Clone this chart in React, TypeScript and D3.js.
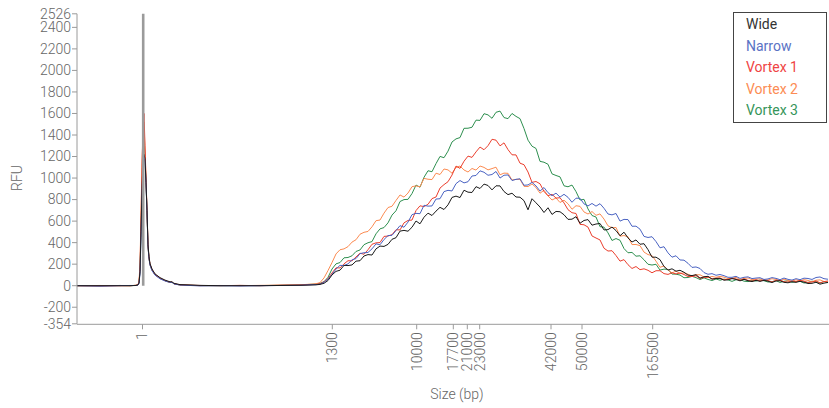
import React from 'react';
import * as d3 from 'd3';

// ---------- data ----------
const seriesNames = ['Wide', 'Narrow', 'Vortex 1', 'Vortex 2', 'Vortex 3'];
const seriesColors = ['#1a1a1a', '#4a63c2', '#ea3f2e', '#fb8b52', '#2e8f4f'];
const legendColors = ['#333333', '#5a72c4', '#ef4444', '#fc8c54', '#36955a'];

// size-ladder ticks (label, migration time in s)
const sizeLabels = ['1', '1300', '10000', '17700', '21000', '23000', '42000', '50000', '165500'];
const sizeTimes = [6.55, 25.53, 33.97, 37.63, 39.03, 40.27, 47.4, 50.5, 57.57];

const yTickValues = [-354, -200, 0, 200, 400, 600, 800, 1000, 1200, 1400, 1600, 1800, 2000, 2200, 2400, 2526];
const yMin = -354;
const yMax = 2526;
const tMax = 75.2;

// lower marker
const markerTime = 6.62;
const markerHeight = 2526;

// early region (baseline + lower marker peak), explicit times
const earlyTime = [0, 2.3, 4.3, 5.3, 5.9, 6.1, 6.2, 6.3, 6.4, 6.5, 6.6, 6.7, 6.8, 6.9, 7.0, 7.1, 7.2, 7.3, 7.5, 7.8, 8.3, 8.8, 9.3, 9.5, 9.7, 10.3, 12.3, 14.3, 16.3, 18.3, 20.3, 22.3, 23.3, 23.9];
const wideEarly = [0, 0, 0, 0, 2, 8, 25, 130, 500, 900, 1150, 1220, 1180, 960, 700, 380, 270, 205, 155, 110, 75, 52, 36, 36, 22, 10, 3, 0, 0, 0, 2, 4, 6, 8];
const narrowEarly = [0, -4, 0, 2, 2, 6, 20, 110, 450, 850, 1100, 1200, 1150, 950, 680, 360, 250, 190, 140, 98, 64, 44, 30, 31, 16, 6, -2, 0, -3, 0, 2, 4, 9, 10];
const vortex1Early = [0, -3, 2, 0, 3, 10, 30, 150, 600, 1100, 1450, 1600, 1300, 1000, 700, 380, 260, 200, 150, 105, 70, 48, 32, 34, 18, 8, 2, 0, 3, 0, 4, 6, 10, 12];
const vortex2Early = [0, 2, -2, 0, 4, 12, 40, 200, 650, 1150, 1450, 1520, 1250, 980, 690, 370, 255, 195, 145, 100, 68, 46, 30, 33, 17, 7, 0, 2, 0, 3, 5, 8, 14, 18];
const vortex3Early = [0, 0, 2, 0, 3, 8, 28, 140, 520, 950, 1250, 1350, 1200, 960, 680, 365, 255, 195, 145, 102, 68, 46, 30, 32, 17, 7, 1, 0, 2, 1, 4, 8, 12, 15];

// main smear region, sampled every 0.4 s from 24.3 s
const mainStart = 24.3;
const mainStep = 0.4;
const wideMain = [
  12, 22, 48, 100, 133, 144, 189, 187, 193, 228,
  232, 276, 289, 285, 342, 368, 365, 384, 431, 446,
  507, 514, 506, 543, 601, 575, 636, 674, 652, 693,
  728, 708, 751, 820, 832, 819, 887, 869, 866, 920,
  903, 944, 931, 890, 928, 927, 875, 846, 859, 824,
  822, 790, 705, 808, 770, 731, 680, 724, 662, 690,
  687, 659, 616, 618, 641, 580, 606, 614, 562, 573,
  578, 518, 521, 545, 512, 464, 497, 444, 406, 425,
  385, 390, 335, 265, 265, 242, 178, 145, 157, 135,
  143, 125, 98, 94, 102, 70, 83, 87, 61, 67,
  68, 51, 55, 66, 58, 45, 59, 46, 38, 50,
  40, 50, 42, 29, 44, 46, 31, 27, 37, 31,
  41, 33, 20, 22, 32, 14, 24, 30,
];
const narrowMain = [
  14, 32, 61, 105, 155, 189, 187, 203, 240, 252,
  298, 306, 309, 342, 389, 380, 429, 466, 468, 512,
  558, 543, 591, 660, 672, 669, 747, 739, 741, 805,
  808, 874, 886, 880, 948, 977, 955, 966, 1019, 1024,
  1067, 1054, 1026, 1033, 1061, 1000, 1026, 1029, 977, 988,
  993, 933, 936, 960, 927, 879, 912, 864, 836, 860,
  823, 849, 821, 775, 813, 812, 760, 741, 764, 739,
  762, 719, 666, 658, 671, 600, 616, 614, 552, 553,
  525, 458, 448, 455, 410, 352, 362, 305, 265, 278,
  239, 237, 208, 170, 174, 160, 122, 106, 112, 97,
  104, 93, 78, 78, 87, 68, 78, 82, 66, 71,
  74, 58, 63, 75, 68, 56, 71, 59, 52, 65,
  56, 70, 67, 58, 76, 81, 65, 60,
];
const vortex1Main = [
  18, 36, 66, 118, 166, 165, 203, 232, 231, 267,
  302, 292, 334, 385, 398, 401, 458, 461, 474, 520,
  518, 584, 606, 610, 698, 742, 735, 756, 809, 824,
  907, 939, 966, 1028, 1111, 1090, 1156, 1204, 1192, 1243,
  1288, 1263, 1301, 1360, 1352, 1299, 1327, 1264, 1216, 1215,
  1138, 1124, 1056, 960, 968, 947, 875, 836, 849, 814,
  817, 769, 706, 678, 671, 570, 566, 544, 462, 443,
  425, 348, 322, 325, 280, 228, 242, 195, 160, 178,
  149, 157, 143, 120, 139, 139, 112, 105, 120, 109,
  119, 104, 85, 85, 93, 68, 77, 82, 63, 69,
  72, 55, 59, 70, 62, 49, 63, 50, 42, 55,
  44, 55, 48, 35, 50, 52, 37, 34, 44, 38,
  49, 42, 30, 34, 44, 27, 38, 44,
];
const vortex2Main = [
  29, 72, 141, 215, 295, 334, 342, 363, 405, 427,
  478, 496, 504, 547, 604, 610, 674, 726, 738, 792,
  843, 823, 861, 920, 927, 919, 997, 989, 986, 1045,
  1033, 1084, 1076, 1045, 1098, 1112, 1075, 1056, 1089, 1074,
  1112, 1099, 1076, 1088, 1101, 1030, 1046, 1044, 982, 988,
  988, 923, 921, 945, 912, 859, 887, 834, 796, 815,
  773, 794, 761, 710, 743, 737, 685, 666, 689, 654,
  667, 619, 556, 538, 541, 460, 466, 454, 382, 383,
  372, 312, 289, 280, 228, 171, 183, 146, 119, 135,
  113, 120, 107, 88, 102, 101, 81, 75, 86, 78,
  87, 79, 66, 68, 77, 58, 68, 72, 56, 61,
  64, 48, 53, 65, 58, 46, 61, 49, 42, 55,
  45, 56, 49, 36, 51, 54, 39, 36,
];
const vortex3Main = [
  22, 37, 78, 155, 203, 215, 259, 262, 278, 318,
  332, 381, 399, 410, 482, 528, 540, 584, 656, 696,
  782, 800, 802, 856, 935, 915, 1007, 1068, 1059, 1134,
  1201, 1189, 1250, 1335, 1364, 1376, 1462, 1463, 1472, 1538,
  1536, 1598, 1587, 1555, 1611, 1622, 1562, 1552, 1600, 1573,
  1552, 1460, 1352, 1296, 1275, 1155, 1147, 1128, 1039, 1024,
  1011, 928, 919, 935, 874, 796, 802, 713, 652, 638,
  548, 544, 491, 420, 438, 422, 345, 306, 309, 274,
  278, 241, 199, 192, 199, 145, 154, 151, 108, 107,
  99, 74, 76, 87, 75, 57, 73, 58, 48, 62,
  51, 61, 54, 40, 55, 57, 42, 38, 48, 43,
  53, 46, 34, 37, 47, 30, 41, 46, 31, 37,
  41, 25, 30, 42, 36, 24, 39, 28,
];

const earlyValues = [wideEarly, narrowEarly, vortex1Early, vortex2Early, vortex3Early];
const mainValues = [wideMain, narrowMain, vortex1Main, vortex2Main, vortex3Main];

// ---------- layout ----------
const W = 829;
const H = 408;
const plotLeft = 77;
const plotRight = 829;
const plotTop = 13.8;
const plotBottom = 323.8;
const FONT = 'Roboto, "Noto Sans", sans-serif';
const AXIS = '#9a9a9a';
const TEXT = '#666666';

export default function App() {
  const x = d3.scaleLinear().domain([0, tMax]).range([plotLeft, plotRight]);
  const y = d3.scaleLinear().domain([yMin, yMax]).range([plotBottom, plotTop]);

  const line = d3
    .line<[number, number]>()
    .x((d) => x(d[0]))
    .y((d) => y(d[1]));

  const series = seriesNames.map((name, k) => {
    const pts: [number, number][] = earlyTime.map((t, i) => [t, earlyValues[k][i]] as [number, number]);
    mainValues[k].forEach((v, i) => pts.push([mainStart + i * mainStep, v]));
    return { name, color: seriesColors[k], legend: legendColors[k], pts };
  });
  const drawOrder = [4, 3, 2, 1, 0];

  return (
    <svg
      width={W}
      height={H}
      style={{ position: 'absolute', left: 0, top: 0, background: '#fff' }}
      fontFamily={FONT}
    >
      <defs>
        <clipPath id="plotClip">
          <rect x={plotLeft} y={plotTop} width={plotRight - plotLeft} height={plotBottom - plotTop} />
        </clipPath>
      </defs>

      <g clipPath="url(#plotClip)">
        {drawOrder.map((k) => (
          <path
            key={series[k].name}
            d={line(series[k].pts) || ''}
            fill="none"
            stroke={series[k].color}
            strokeWidth={1}
            strokeLinejoin="round"
          />
        ))}
      </g>

      {/* marker line */}
      <line
        x1={x(markerTime)}
        x2={x(markerTime)}
        y1={y(0)}
        y2={y(markerHeight)}
        stroke="#9b9b9b"
        strokeWidth={2.6}
      />

      {/* y axis */}
      <line x1={plotLeft} x2={plotLeft} y1={plotTop} y2={plotBottom} stroke={AXIS} strokeWidth={1} />
      {yTickValues.map((v) => (
        <g key={v} transform={`translate(0,${y(v)})`}>
          <line x1={plotLeft - 5} x2={plotLeft} stroke={AXIS} />
          <text
            x={plotLeft - 6}
            dy="0.35em"
            textAnchor="end"
            fontSize={14}
            fontWeight={300}
            fill={TEXT}
          >
            {v}
          </text>
        </g>
      ))}
      <text
        transform={`translate(22,178) rotate(-90)`}
        textAnchor="middle"
        fontSize={14}
        fontWeight={300}
        fill={TEXT}
      >
        RFU
      </text>

      {/* x axis */}
      <line x1={plotLeft} x2={plotRight} y1={plotBottom + 0.5} y2={plotBottom + 0.5} stroke={AXIS} />
      {sizeTimes.map((t, i) => (
        <g key={sizeLabels[i]} transform={`translate(${x(t)},${plotBottom + 0.5})`}>
          <line y1={0} y2={5} stroke={AXIS} />
          <text
            transform="translate(0,8) rotate(-90)"
            dy="0.35em"
            textAnchor="end"
            fontSize={14}
            fontWeight={300}
            fill={TEXT}
          >
            {sizeLabels[i]}
          </text>
        </g>
      ))}
      <text x={457} y={399} textAnchor="middle" fontSize={14} fontWeight={300} fill={TEXT}>
        Size (bp)
      </text>

      {/* legend */}
      <rect x={733.5} y={12.5} width={93} height={110} fill="#fff" stroke="#444" strokeWidth={1} />
      {series.map((s, i) => (
        <text
          key={s.name}
          x={746}
          y={24.5 + i * 21.4}
          dy="0.35em"
          fontSize={14}
          fontWeight={400}
          fill={s.legend}
        >
          {s.name}
        </text>
      ))}
    </svg>
  );
}
